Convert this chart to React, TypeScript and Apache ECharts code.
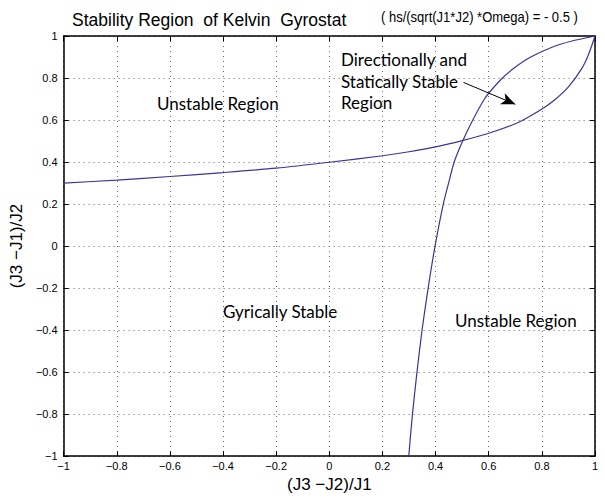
import React, { useEffect, useRef } from "react";
import * as echarts from "echarts";

// Curve A: nearly horizontal branch, x -> y
const curveAx = [-1, -0.8, -0.6, -0.4, -0.2, 0, 0.2, 0.3, 0.4, 0.5, 0.6, 0.7, 0.75, 0.8, 0.85, 0.9, 0.95, 0.975, 1];
const curveAy = [0.3, 0.314, 0.331, 0.35, 0.371, 0.399, 0.43, 0.449, 0.472, 0.502, 0.537, 0.582, 0.614, 0.652, 0.698, 0.758, 0.845, 0.91, 1.0];
// Curve B: steep branch, y -> x
const curveBy = [-1, -0.8, -0.6, -0.4, -0.2, 0, 0.2, 0.3, 0.4, 0.5, 0.6, 0.7, 0.75, 0.8, 0.85, 0.9, 0.95, 0.975, 1];
const curveBx = [0.299, 0.313, 0.33, 0.349, 0.372, 0.398, 0.429, 0.449, 0.47, 0.502, 0.54, 0.584, 0.615, 0.652, 0.698, 0.758, 0.845, 0.91, 1.0];

const arrowFrom = [0.505, 0.779];
const arrowTo = [0.7, 0.675];

const titleMain = "Stability Region  of Kelvin  Gyrostat";
const titleSub = "( hs/(sqrt(J1*J2) *Omega) = - 0.5 )";
const xName = "(J3 \u2212J2)/J1";
const yName = "(J3 \u2212J1)/J2";
const annDirectional = ["Directionally and", "Statically Stable", "Region"];
const annUnstable = "Unstable Region";
const annGyric = "Gyrically Stable";

const fmt = (v: number) => {
  const r = Math.round(v * 10) / 10;
  if (r === 0) return "0";
  return String(r).replace("-", "\u2212");
};

export default function App() {
  const ref = useRef<HTMLDivElement>(null);
  useEffect(() => {
    if (!ref.current) return;
    const chart = echarts.init(ref.current, null, { renderer: "svg" });
    const lineColor = "#3d3494";
    const sans = "'Liberation Sans', Arial, sans-serif";
    const annFont = "Lato, 'Open Sans', sans-serif";
    const axisCommon = {
      min: -1,
      max: 1,
      interval: 0.2,
      axisLine: { show: true, onZero: false, lineStyle: { color: "#000", width: 1.5 } },
      axisTick: { show: true, inside: true, length: 5, lineStyle: { color: "#000" } },
    };
    const ann = (text: string, x: number, y: number) => ({
      type: "text",
      x,
      y,
      style: { text, fontFamily: annFont, fontSize: 17, fill: "#000", verticalAlign: "middle", align: "left" },
    });
    chart.setOption({
      animation: false,
      backgroundColor: "#fff",
      grid: { left: 62, right: 10, top: 36, bottom: 39, containLabel: false },
      xAxis: [
        {
          ...axisCommon,
          type: "value",
          position: "bottom",
          name: xName,
          nameLocation: "middle",
          nameGap: 15,
          nameTextStyle: { fontFamily: sans, fontSize: 17, color: "#000" },
          axisLabel: { formatter: fmt, fontFamily: sans, fontSize: 11, color: "#000", margin: 4 },
          splitLine: { show: true, lineStyle: { color: "#666", type: [1, 4], width: 1 } },
        },
        {
          ...axisCommon,
          type: "value",
          position: "top",
          axisLabel: { show: false },
          splitLine: { show: false },
        },
      ],
      yAxis: [
        {
          ...axisCommon,
          type: "value",
          position: "left",
          name: yName,
          nameLocation: "middle",
          nameGap: 36,
          nameRotate: 90,
          nameTextStyle: { fontFamily: sans, fontSize: 17, color: "#000" },
          axisLabel: { formatter: fmt, fontFamily: sans, fontSize: 11, color: "#000", margin: 6 },
          splitLine: { show: true, lineStyle: { color: "#666", type: [1, 4], width: 1 } },
        },
        {
          ...axisCommon,
          type: "value",
          position: "right",
          axisLabel: { show: false },
          splitLine: { show: false },
        },
      ],
      series: [
        {
          type: "line",
          data: curveAx.map((x, i) => [x, curveAy[i]]),
          showSymbol: false,
          smooth: 0.25,
          lineStyle: { color: lineColor, width: 1.2 },
          markLine: {
            silent: true,
            symbol: ["none", "arrow"],
            symbolSize: [9, 14],
            label: { show: false },
            lineStyle: { color: "#000", width: 1, type: "solid" },
            data: [[{ coord: arrowFrom }, { coord: arrowTo }]],
          },
        },
        {
          type: "line",
          data: curveBx.map((x, i) => [x, curveBy[i]]),
          showSymbol: false,
          smooth: 0.25,
          lineStyle: { color: lineColor, width: 1.2 },
        },
      ],
      graphic: [
        { type: "text", x: 72, y: 20, style: { text: titleMain, fontFamily: sans, fontSize: 17.5, fill: "#000", verticalAlign: "middle" } },
        { type: "text", x: 381, y: 17, scaleX: 0.93, style: { text: titleSub, fontFamily: sans, fontSize: 14, fill: "#000", verticalAlign: "middle" } },
        ann(annDirectional[0], 341, 59.5),
        ann(annDirectional[1], 341, 81),
        ann(annDirectional[2], 341, 102.5),
        ann(annUnstable, 157, 103),
        ann(annGyric, 223, 311),
        ann(annUnstable, 455, 320),
      ],
    });
    return () => chart.dispose();
  }, []);
  return <div ref={ref} style={{ width: 605, height: 498, position: "absolute", left: 0, top: 0 }} />;
}
